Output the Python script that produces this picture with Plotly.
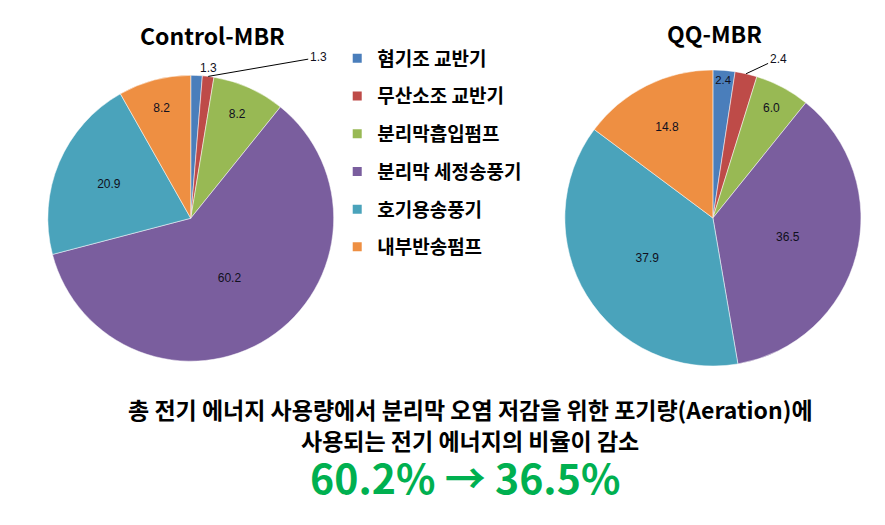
import math
import plotly.graph_objects as go

# 에너지 사용 비율 (%)
labels = ["혐기조 교반기", "무산소조 교반기", "분리막흡입펌프", "분리막 세정송풍기", "호기용송풍기", "내부반송펌프"]
control_vals = [1.3, 1.3, 8.2, 60.2, 20.9, 8.2]
qq_vals = [2.4, 2.4, 6.0, 36.5, 37.9, 14.8]
colors = ["#4A7EBB", "#BE4B48", "#98B954", "#7A5E9E", "#4AA3BB", "#EE8F42"]

W, H = 885, 525
kfont = "Noto Sans CJK KR"

ctrl_dom = dict(x=[0.045, 0.368], y=[0.327, 0.872])
qq_dom = dict(x=[0.629, 0.964], y=[0.318, 0.882])

fig = go.Figure()

def pie(vals, dom, pos):
    return go.Pie(
        labels=labels, values=vals, sort=False, direction="clockwise", rotation=0,
        marker=dict(colors=colors, line=dict(width=0.5, color="white")),
        texttemplate="%{value:.1f}", textposition=pos,
        textfont=dict(family="Liberation Sans", size=12, color="#101020"),
        insidetextorientation="horizontal",
        domain=dom, showlegend=False, hoverinfo="label+value",
    )

fig.add_trace(pie(control_vals, ctrl_dom,
                  ["outside", "none", "inside", "inside", "inside", "inside"]))
fig.add_trace(pie(qq_vals, qq_dom,
                  ["inside", "none", "inside", "inside", "inside", "inside"]))

# legend entries as dummy traces so spacing can be controlled
for lab, c in zip(labels, colors):
    fig.add_trace(go.Scatter(
        x=[None], y=[None], mode="markers", name=lab, legendgroup=lab,
        marker=dict(symbol="square", size=9, color=c),
    ))


def leader(vals, dom, idx, ax, ay):
    # label with leader line from the rim of slice idx
    cx = (dom["x"][0] + dom["x"][1]) / 2 * W
    cy = (1 - (dom["y"][0] + dom["y"][1]) / 2) * H
    r = min((dom["x"][1] - dom["x"][0]) * W, (dom["y"][1] - dom["y"][0]) * H) / 2
    frac = (sum(vals[:idx]) + vals[idx] / 2) / sum(vals)
    ang = 2 * math.pi * frac
    px_ = cx + r * math.sin(ang)
    py_ = cy - r * math.cos(ang)
    return dict(text=f"{vals[idx]:.1f}", x=px_ / W, y=1 - py_ / H, xref="paper", yref="paper",
                showarrow=True, arrowhead=0, arrowwidth=1, arrowcolor="black",
                ax=ax, ay=ay, font=dict(family="Liberation Sans", size=12, color="#101020"))


fig.update_layout(
    width=W, height=H,
    margin=dict(l=0, r=0, t=0, b=0),
    paper_bgcolor="white", plot_bgcolor="white",
    xaxis=dict(visible=False), yaxis=dict(visible=False),
    legend=dict(x=0.372, y=0.94, xanchor="left", yanchor="top",
                font=dict(family=kfont, size=19, color="black", weight="bold"),
                tracegroupgap=10, itemwidth=30),
    annotations=[
        leader(control_vals, ctrl_dom, 1, 110, -19),
        leader(qq_vals, qq_dom, 1, 32, -15),
        dict(text="<b>Control-MBR</b>", x=204 / W, y=1 - 27 / H, xref="paper", yref="paper",
             xanchor="center", yanchor="middle", showarrow=False,
             font=dict(family=kfont, size=23, color="black")),
        dict(text="<b>QQ-MBR</b>", x=706 / W, y=1 - 25 / H, xref="paper", yref="paper",
             xanchor="center", yanchor="middle", showarrow=False,
             font=dict(family=kfont, size=23, color="black")),
        dict(text="<b>총 전기 에너지 사용량에서 분리막 오염 저감을 위한 포기량(Aeration)에</b>",
             x=462 / W, y=1 - 401 / H, xref="paper", yref="paper", showarrow=False,
             xanchor="center", yanchor="middle",
             font=dict(family=kfont, size=23, color="black")),
        dict(text="<b>사용되는 전기 에너지의 비율이 감소</b>",
             x=462 / W, y=1 - 432 / H, xref="paper", yref="paper", showarrow=False,
             xanchor="center", yanchor="middle",
             font=dict(family=kfont, size=23, color="black"), height=28),
        dict(text="<b>60.2% → 36.5%</b>",
             x=457 / W, y=1 - 468 / H, xref="paper", yref="paper", showarrow=False,
             xanchor="center", yanchor="middle", height=38,
             font=dict(family=kfont, size=41, color="#00B050")),
    ],
)

fig.write_html("out.html")
